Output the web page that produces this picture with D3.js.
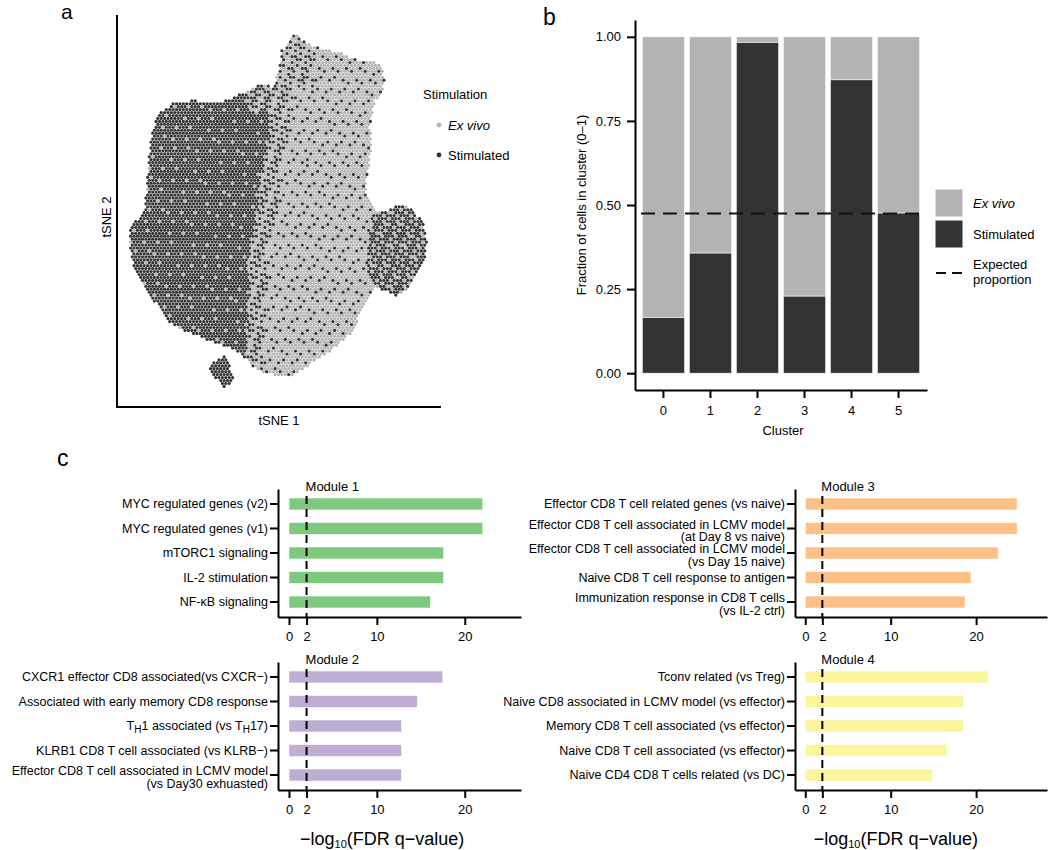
<!DOCTYPE html>
<html><head><meta charset="utf-8">
<script src="https://cdn.jsdelivr.net/npm/d3@7"></script>
<style>body{margin:0;background:#fff} svg{font-family:"Liberation Sans",Arial,Helvetica,sans-serif}</style>
</head><body><svg id="chart" width="1050" height="850"></svg>
<script>
// ---------------- DATA ----------------
// Panel a: tSNE regions (outlines, tSNE units)
const tsneOutline = [[4.1,44.8],[5.75,43.6],[7.4,41.9],[12.4,40.25],[16.6,39.4],[20.75,37.3],[24.1,37.3],[26.2,36.1],[27,32.75],[26.2,29.4],[24.5,27.75],[23.7,24.4],[23.25,21.1],[23.7,17.75],[23.25,12.75],[22.4,8.6],[22,4.4],[23.7,1.1],[25.75,-0.6],[30.75,1.9],[34.1,0.25],[36.6,-3.1],[37.4,-7.25],[37,-12.25],[34.9,-16.4],[32.4,-19.75],[29.9,-21.4],[27.4,-20.2],[24.9,-18.9],[22.4,-22.25],[20.75,-25.6],[19.1,-29.75],[15.75,-33.1],[12.4,-35.6],[7.4,-38.9],[4.1,-41],[-0.1,-41],[-4.25,-40.2],[-6.75,-38.1],[-9.25,-35.6],[-11.75,-33.9],[-15.1,-33.1],[-19.25,-31.4],[-23.4,-29.75],[-26.75,-28.1],[-28.4,-25.6],[-30.9,-22.25],[-33.4,-18.9],[-35.9,-13.9],[-36.75,-9.75],[-36.75,-4.75],[-35.1,-2.25],[-33,1.1],[-32.6,6.1],[-32.2,11.1],[-31.75,16.1],[-30.9,21.1],[-29.25,24.4],[-25.9,26.9],[-20.9,27.75],[-17.6,26.9],[-14.25,26.9],[-10.9,28.6],[-6.75,30.25],[-4.25,31.9],[-0.9,31.1],[0.75,36.1],[1.2,40.25],[3.25,42.75]];
const stimulatedCore = [[-0.1,32.75],[-1.75,25.25],[-2.6,17.75],[-3.8,11.1],[-4.7,2.75],[-6.3,-5.6],[-7.6,-13.9],[-7.2,-22.25],[-8,-30.6],[-7.6,-38.9],[-14.25,-35.6],[-29.25,-30.6],[-39.25,-13.9],[-39.25,2.75],[-33.4,27.75],[-16.75,30.25],[-4.25,33.6]];
const transitionBand = [[-0.1,32.75],[-1.75,25.25],[-2.6,17.75],[-3.8,11.1],[-4.7,2.75],[-6.3,-5.6],[-7.6,-13.9],[-7.2,-22.25],[-8,-30.6],[-7.6,-38.9],[-3.6,-38.9],[-3,-30.6],[-2.2,-22.25],[-2.6,-13.9],[-1.3,-5.6],[0.3,2.75],[1.2,11.1],[2.4,17.75],[3.25,25.25],[4.9,32.75]];
const stimulatedRightBlob = [[24.9,2.75],[30.75,3.2],[34.9,1.1],[38.25,-3.9],[38.25,-13.9],[34.1,-18.9],[29.9,-22.25],[24.9,-20.6],[22.4,-13.9],[23.25,-5.6]];
const stimulatedIsland = [[-16.3,-38.1],[-13.4,-36],[-11.75,-38.9],[-10.9,-42.25],[-13,-44.3],[-15.9,-41.4],[-16.75,-39.3]];
const mixedTop = [[0.75,45.25],[9.1,42.75],[9.9,31.1],[-0.1,30.25]];
const mixedPatch = [[-7.6,30.25],[-0.5,31.9],[-1.75,24.4],[-6.75,25.25]];
const stimulationLevels = ["Ex vivo", "Stimulated"];

// Panel b
const clusters = ["0","1","2","3","4","5"];
const stimulatedFraction = [0.165, 0.357, 0.983, 0.229, 0.872, 0.476];
const expectedProportion = 0.475;
const fractionTicks = [0, 0.25, 0.5, 0.75, 1];

// Panel c
const module1Terms = ["MYC regulated genes (v2)","MYC regulated genes (v1)","mTORC1 signaling","IL-2 stimulation","NF-κB signaling"];
const module1Values = [22.05, 22.05, 17.6, 17.6, 16.1];
const module2Terms = ["CXCR1 effector CD8 associated(vs CXCR−)","Associated with early memory CD8 response","T_H1 associated (vs T_H17)","KLRB1 CD8 T cell associated (vs KLRB−)","Effector CD8 T cell associated in LCMV model\n(vs Day30 exhuasted)"];
const module2Values = [17.5, 14.6, 12.8, 12.8, 12.8];
const module3Terms = ["Effector CD8 T cell related genes (vs naive)","Effector CD8 T cell associated in LCMV model\n(at Day 8 vs naive)","Effector CD8 T cell associated in LCMV model\n(vs Day 15 naive)","Naive CD8 T cell response to antigen","Immunization response in CD8 T cells\n(vs IL-2 ctrl)"];
const module3Values = [24.8, 24.8, 22.6, 19.4, 18.7];
const module4Terms = ["Tconv related (vs Treg)","Naive CD8 associated in LCMV model (vs effector)","Memory CD8 T cell associated (vs effector)","Naive CD8 T cell associated (vs effector)","Naive CD4 CD8 T cells related (vs DC)"];
const module4Values = [21.4, 18.5, 18.5, 16.6, 14.9];
const qTicks = [0, 2, 10, 20];
const qThreshold = 2;

// ---------------- STYLE ----------------
const GRAY = "#b3b3b3", DARK = "#333333";
const moduleColors = ["#7fc97f", "#beaed4", "#fdc086", "#fbf59c"];
const svg = d3.select("#chart");
const FS = 13, LFS = 12.5;

function styleAxis(g){
  g.selectAll(".domain").attr("stroke","#000").attr("stroke-width",2);
  g.selectAll(".tick line").attr("stroke","#000").attr("stroke-width",2);
  g.selectAll(".tick text").attr("font-size",FS).attr("fill","#000").attr("font-family",null);
}

// ---------------- PANEL A ----------------
svg.append("text").attr("x",61).attr("y",19).attr("font-size",21).text("a");
const xT = d3.scaleLinear().domain([-40,41]).range([117,441]);
const yT = d3.scaleLinear().domain([-49,49]).range([407,15]);
// share of Stimulated cells shown in each region (texture only)
const regionMix = [
  [stimulatedIsland, 1.0],
  [mixedPatch, 0.5],
  [stimulatedCore, 0.93],
  [transitionBand, 0.4],
  [stimulatedRightBlob, 0.72],
  [mixedTop, 0.35]
];
const otherMix = 0.14;
const frac = t => t - Math.floor(t);
const grid = 0.85;
const cells = [];
let row = 0;
for (let v = -49; v <= 49; v += grid*0.866, row++) {
  let col = 0;
  for (let u = -40 + (row%2 ? grid/2 : 0); u <= 41; u += grid, col++) {
    const p = [u, v];
    const inIsland = d3.polygonContains(stimulatedIsland, p);
    if (!inIsland && !d3.polygonContains(tsneOutline, p)) continue;
    let share = otherMix;
    for (const [poly, s] of regionMix) { if (d3.polygonContains(poly, p)) { share = s; break; } }
    const q = frac(col*0.7548776662 + row*0.5698402910);
    cells.push({u, v, cls: q < share ? 1 : 0});
  }
}
const gA = svg.append("g");
[0,1].forEach(k => {
  gA.selectAll(null).data(cells.filter(d => d.cls === k)).join("circle")
    .attr("cx", d => xT(d.u)).attr("cy", d => yT(d.v)).attr("r", 1.6)
    .attr("fill", k ? DARK : GRAY);
});
svg.append("line").attr("x1",117).attr("x2",117).attr("y1",yT.range()[1]).attr("y2",yT.range()[0]).attr("stroke","#000").attr("stroke-width",2);
svg.append("line").attr("x1",116).attr("x2",441).attr("y1",407).attr("y2",407).attr("stroke","#000").attr("stroke-width",2);
svg.append("text").attr("transform","translate(111,217) rotate(-90)").attr("text-anchor","middle").attr("font-size",FS).text("tSNE 2");
svg.append("text").attr("x",279).attr("y",425).attr("text-anchor","middle").attr("font-size",FS).text("tSNE 1");
svg.append("text").attr("x",423).attr("y",99).attr("font-size",FS).text("Stimulation");
stimulationLevels.forEach((s,i) => {
  const y = 125 + i*30;
  svg.append("circle").attr("cx",439).attr("cy",y).attr("r",2.4).attr("fill", i ? DARK : GRAY);
  svg.append("text").attr("x",448).attr("y",y+4.5).attr("font-size",FS).attr("font-style", i ? null : "italic").text(s);
});

// ---------------- PANEL B ----------------
svg.append("text").attr("x",543).attr("y",25).attr("font-size",23).text("b");
const xB = d3.scaleBand().domain(clusters).range([635,927]).paddingInner(0.1).paddingOuter(0.155);
const yB = d3.scaleLinear().domain([-0.05,1.05]).range([390,20]);
const gB = svg.append("g");
gB.selectAll(".ev").data(clusters).join("rect")
  .attr("x", d => xB(d)).attr("width", xB.bandwidth())
  .attr("y", yB(1)).attr("height", (d,i) => yB(stimulatedFraction[i]) - yB(1))
  .attr("fill", GRAY).attr("stroke","#fff").attr("stroke-width",0.6);
gB.selectAll(".st").data(clusters).join("rect")
  .attr("x", d => xB(d)).attr("width", xB.bandwidth())
  .attr("y", (d,i) => yB(stimulatedFraction[i])).attr("height", (d,i) => yB(0) - yB(stimulatedFraction[i]))
  .attr("fill", DARK).attr("stroke","#fff").attr("stroke-width",0.6);
gB.append("line").attr("x1",641).attr("x2",921).attr("y1",yB(expectedProportion)).attr("y2",yB(expectedProportion))
  .attr("stroke","#111").attr("stroke-width",2).attr("stroke-dasharray","14,8");
svg.append("g").attr("transform","translate(635,0)")
  .call(d3.axisLeft(yB).tickValues(fractionTicks).tickFormat(d3.format(".2f")).tickSize(8).tickPadding(6).tickSizeOuter(0))
  .call(styleAxis);
svg.append("g").attr("transform","translate(0,390)")
  .call(d3.axisBottom(xB).tickSize(8).tickPadding(8).tickSizeOuter(0))
  .call(styleAxis);
svg.append("text").attr("x",783).attr("y",435).attr("text-anchor","middle").attr("font-size",FS).text("Cluster");
svg.append("text").attr("transform","translate(586,205) rotate(-90)").attr("text-anchor","middle").attr("font-size",FS).text("Fraction of cells in cluster (0–1)");
[[GRAY,"Ex vivo",true],[DARK,"Stimulated",false]].forEach((d,i) => {
  const y0 = 189 + i*31;
  svg.append("rect").attr("x",935).attr("y",y0).attr("width",28).attr("height",28).attr("fill",d[0]).attr("stroke","#fff").attr("stroke-width",1);
  svg.append("text").attr("x",973).attr("y",y0+19).attr("font-size",FS).attr("font-style",d[2]?"italic":null).text(d[1]);
});
svg.append("line").attr("x1",936).attr("x2",963).attr("y1",273).attr("y2",273).attr("stroke","#111").attr("stroke-width",2).attr("stroke-dasharray","10,6");
svg.append("text").attr("x",973).attr("y",269).attr("font-size",FS).text("Expected");
svg.append("text").attr("x",973).attr("y",284).attr("font-size",FS).text("proportion");

// ---------------- PANEL C ----------------
svg.append("text").attr("x",57).attr("y",466).attr("font-size",23).text("c");

function addLabelText(sel, str){
  str.split(/(_H)/).forEach(tok => {
    if (tok === "_H") sel.append("tspan").attr("font-size",10).attr("baseline-shift","-3").text("H");
    else if (tok.length) sel.append("tspan").text(tok);
  });
}

function drawModule(title, terms, values, color, xRange, xDomain, yRange, showTitleAxis){
  const x = d3.scaleLinear().domain(xDomain).range(xRange);
  const y = d3.scaleBand().domain(terms).range(yRange).paddingInner(0.51).paddingOuter(0.366);
  const g = svg.append("g");
  g.selectAll("rect").data(terms).join("rect")
    .attr("x", x(0)).attr("y", d => y(d)).attr("height", y.bandwidth())
    .attr("width", (d,i) => x(values[i]) - x(0))
    .attr("fill", color).attr("stroke","#fff").attr("stroke-width",0.6);
  g.append("line").attr("x1",x(qThreshold)).attr("x2",x(qThreshold)).attr("y1",yRange[0]+7).attr("y2",yRange[1])
    .attr("stroke","#000").attr("stroke-width",2).attr("stroke-dasharray","8,5");
  svg.append("g").attr("transform",`translate(0,${yRange[1]})`)
    .call(d3.axisBottom(x).tickValues(qTicks).tickFormat(d3.format("d")).tickSize(8).tickPadding(7).tickSizeOuter(0))
    .call(styleAxis);
  svg.append("g").attr("transform",`translate(${xRange[0]},0)`)
    .call(d3.axisLeft(y).tickSize(8).tickSizeOuter(0).tickFormat(""))
    .call(styleAxis);
  terms.forEach(t => {
    const cy = y(t) + y.bandwidth()/2;
    const lines = t.split("\n");
    lines.forEach((ln, k) => {
      const ly = lines.length === 1 ? cy : (k === 0 ? cy - 4 : cy + 8.5);
      const tx = svg.append("text").attr("x", xRange[0]-10).attr("y", ly + 4.4)
        .attr("text-anchor","end").attr("font-size",LFS);
      addLabelText(tx, ln);
    });
  });
  svg.append("text").attr("x", x(qThreshold)-1).attr("y", yRange[0]+2).attr("font-size",FS).text(title);
  if (showTitleAxis) {
    const at = svg.append("text").attr("x", x(10.6)).attr("y", 845).attr("text-anchor","middle").attr("font-size",18);
    at.append("tspan").text("−log");
    at.append("tspan").attr("font-size",11).attr("baseline-shift","-3").text("10");
    at.append("tspan").text("(FDR q−value)");
  }
}

const leftX = [278, 521], leftDom = [-1.25, 26.4];
const rightX = [795, 1047], rightDom = [-1.2, 28.3];
const topY = [489, 617], botY = [662, 790];
drawModule("Module 1", module1Terms, module1Values, moduleColors[0], leftX, leftDom, topY, false);
drawModule("Module 2", module2Terms, module2Values, moduleColors[1], leftX, leftDom, botY, true);
drawModule("Module 3", module3Terms, module3Values, moduleColors[2], rightX, rightDom, topY, false);
drawModule("Module 4", module4Terms, module4Values, moduleColors[3], rightX, rightDom, botY, true);
</script></body></html>
